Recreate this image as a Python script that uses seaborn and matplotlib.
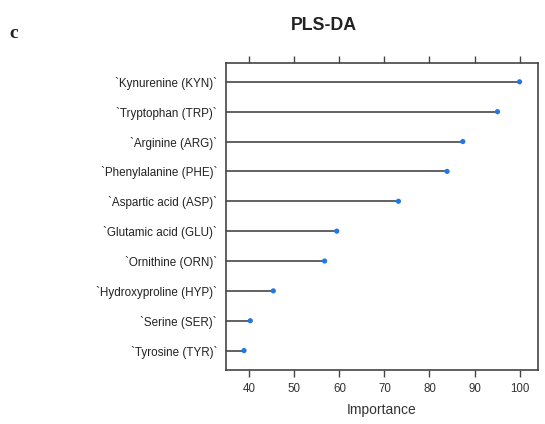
import matplotlib
matplotlib.use("Agg")
import matplotlib.pyplot as plt
import seaborn as sns
import pandas as pd

features = [
    "`Kynurenine (KYN)`", "`Tryptophan (TRP)`", "`Arginine (ARG)`",
    "`Phenylalanine (PHE)`", "`Aspartic acid (ASP)`", "`Glutamic acid (GLU)`",
    "`Ornithine (ORN)`", "`Hydroxyproline (HYP)`", "`Serine (SER)`",
    "`Tyrosine (TYR)`",
]
importance = [100.0, 95.1, 87.4, 83.9, 73.1, 59.4, 56.7, 45.3, 40.2, 38.8]
x_ticks = [40, 50, 60, 70, 80, 90, 100]

df = pd.DataFrame({"feature": features, "importance": importance})

sns.set_style("white")
plt.rcParams["font.family"] = ["Liberation Sans", "DejaVu Sans"]

fig = plt.figure(figsize=(5.45, 4.24), dpi=100)
ax = fig.add_axes([226 / 545, 1 - 370 / 424, (538 - 226) / 545, (370 - 63) / 424])

xmin, xmax = 34.8, 104.1
ypos = list(range(len(features)))
ax.hlines(ypos, xmin, df["importance"], color="#555555", linewidth=1.3, zorder=1)
sns.scatterplot(data=df, x="importance", y="feature", ax=ax, color="#1f78e6",
                s=14, edgecolor="none", zorder=2, legend=False)

ax.set_xlim(xmin, xmax)
ax.set_ylim(len(features) - 1 + 0.65, -0.63)
ax.set_xticks(x_ticks)
ax.tick_params(axis="x", which="both", bottom=True, top=True, labeltop=False,
               direction="out", length=5, width=1, color="#444444",
               labelsize=8.3, labelcolor="#333333", pad=4)
ax.tick_params(axis="y", left=False, labelsize=8.4, labelcolor="#222222", pad=3)
for s in ax.spines.values():
    s.set_color("#444444")
    s.set_linewidth(1.2)
ax.set_ylabel("")
ax.set_xlabel("Importance", fontsize=10, color="#333333", labelpad=6)

fig.text(324 / 545, 1 - 25 / 424, "PLS-DA", ha="center", va="center",
         fontsize=12.8, fontweight="bold", color="#222222")
fig.text(14 / 545, 1 - 33 / 424, "c", ha="center", va="center",
         fontsize=14, fontweight="bold", family="Liberation Serif", color="#222222")

fig.savefig("out.png", dpi=100, facecolor="white")
